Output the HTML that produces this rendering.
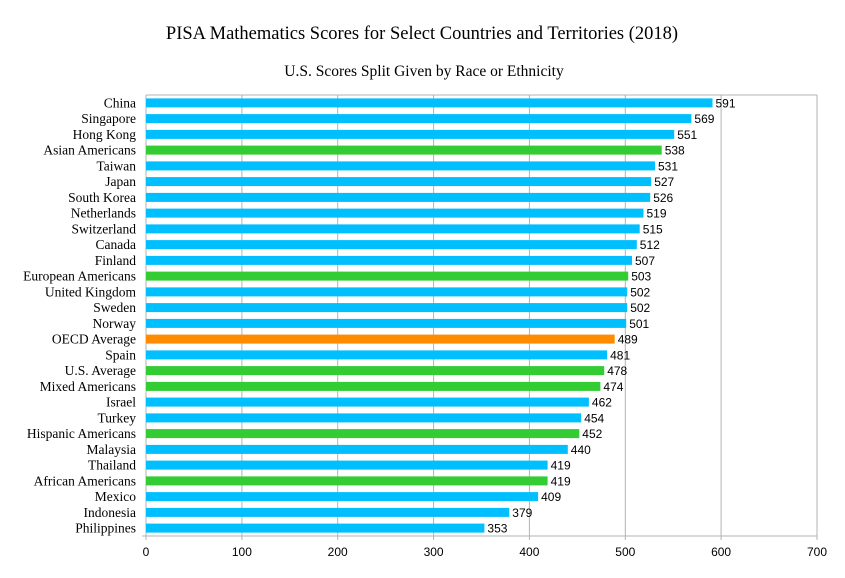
<!DOCTYPE html>
<html><head><meta charset="utf-8"><style>body{margin:0;background:#fff}</style></head><body>
<svg width="845" height="573" xmlns="http://www.w3.org/2000/svg">
<rect width="845" height="573" fill="#fff"/>
<text x="422" y="39" text-anchor="middle" font-family="Liberation Serif, serif" font-size="18.5">PISA Mathematics Scores for Select Countries and Territories (2018)</text>
<text x="424" y="76" text-anchor="middle" font-family="Liberation Serif, serif" font-size="15.5">U.S. Scores Split Given by Race or Ethnicity</text>
<g stroke="#b3b3b3" stroke-width="1">
<line x1="146" y1="95" x2="817" y2="95"/>
<line x1="241.9" y1="95" x2="241.9" y2="540"/>
<line x1="337.7" y1="95" x2="337.7" y2="540"/>
<line x1="433.6" y1="95" x2="433.6" y2="540"/>
<line x1="529.4" y1="95" x2="529.4" y2="540"/>
<line x1="625.3" y1="95" x2="625.3" y2="540"/>
<line x1="721.1" y1="95" x2="721.1" y2="540"/>
<line x1="817" y1="95" x2="817" y2="540"/>
<line x1="146" y1="95" x2="146" y2="540"/>
<line x1="142" y1="536" x2="817" y2="536"/>
</g>
<g font-family="Liberation Sans, sans-serif" font-size="12">
<g transform="translate(0,102.9)"><rect x="146" y="-4.5" width="566.5" height="9" fill="#00bfff"/><text x="715.5" y="4.5">591</text><text x="136" y="4.5" text-anchor="end" font-family="Liberation Serif, serif" font-size="13.5">China</text></g>
<g transform="translate(0,118.6)"><rect x="146" y="-4.5" width="545.4" height="9" fill="#00bfff"/><text x="694.4" y="4.5">569</text><text x="136" y="4.5" text-anchor="end" font-family="Liberation Serif, serif" font-size="13.5">Singapore</text></g>
<g transform="translate(0,134.4)"><rect x="146" y="-4.5" width="528.2" height="9" fill="#00bfff"/><text x="677.2" y="4.5">551</text><text x="136" y="4.5" text-anchor="end" font-family="Liberation Serif, serif" font-size="13.5">Hong Kong</text></g>
<g transform="translate(0,150.1)"><rect x="146" y="-4.5" width="515.7" height="9" fill="#33cc33"/><text x="664.7" y="4.5">538</text><text x="136" y="4.5" text-anchor="end" font-family="Liberation Serif, serif" font-size="13.5">Asian Americans</text></g>
<g transform="translate(0,165.9)"><rect x="146" y="-4.5" width="509.0" height="9" fill="#00bfff"/><text x="658.0" y="4.5">531</text><text x="136" y="4.5" text-anchor="end" font-family="Liberation Serif, serif" font-size="13.5">Taiwan</text></g>
<g transform="translate(0,181.6)"><rect x="146" y="-4.5" width="505.2" height="9" fill="#00bfff"/><text x="654.2" y="4.5">527</text><text x="136" y="4.5" text-anchor="end" font-family="Liberation Serif, serif" font-size="13.5">Japan</text></g>
<g transform="translate(0,197.4)"><rect x="146" y="-4.5" width="504.2" height="9" fill="#00bfff"/><text x="653.2" y="4.5">526</text><text x="136" y="4.5" text-anchor="end" font-family="Liberation Serif, serif" font-size="13.5">South Korea</text></g>
<g transform="translate(0,213.1)"><rect x="146" y="-4.5" width="497.5" height="9" fill="#00bfff"/><text x="646.5" y="4.5">519</text><text x="136" y="4.5" text-anchor="end" font-family="Liberation Serif, serif" font-size="13.5">Netherlands</text></g>
<g transform="translate(0,228.9)"><rect x="146" y="-4.5" width="493.7" height="9" fill="#00bfff"/><text x="642.7" y="4.5">515</text><text x="136" y="4.5" text-anchor="end" font-family="Liberation Serif, serif" font-size="13.5">Switzerland</text></g>
<g transform="translate(0,244.6)"><rect x="146" y="-4.5" width="490.8" height="9" fill="#00bfff"/><text x="639.8" y="4.5">512</text><text x="136" y="4.5" text-anchor="end" font-family="Liberation Serif, serif" font-size="13.5">Canada</text></g>
<g transform="translate(0,260.4)"><rect x="146" y="-4.5" width="486.0" height="9" fill="#00bfff"/><text x="635.0" y="4.5">507</text><text x="136" y="4.5" text-anchor="end" font-family="Liberation Serif, serif" font-size="13.5">Finland</text></g>
<g transform="translate(0,276.1)"><rect x="146" y="-4.5" width="482.2" height="9" fill="#33cc33"/><text x="631.2" y="4.5">503</text><text x="136" y="4.5" text-anchor="end" font-family="Liberation Serif, serif" font-size="13.5">European Americans</text></g>
<g transform="translate(0,291.9)"><rect x="146" y="-4.5" width="481.2" height="9" fill="#00bfff"/><text x="630.2" y="4.5">502</text><text x="136" y="4.5" text-anchor="end" font-family="Liberation Serif, serif" font-size="13.5">United Kingdom</text></g>
<g transform="translate(0,307.6)"><rect x="146" y="-4.5" width="481.2" height="9" fill="#00bfff"/><text x="630.2" y="4.5">502</text><text x="136" y="4.5" text-anchor="end" font-family="Liberation Serif, serif" font-size="13.5">Sweden</text></g>
<g transform="translate(0,323.4)"><rect x="146" y="-4.5" width="480.2" height="9" fill="#00bfff"/><text x="629.2" y="4.5">501</text><text x="136" y="4.5" text-anchor="end" font-family="Liberation Serif, serif" font-size="13.5">Norway</text></g>
<g transform="translate(0,339.1)"><rect x="146" y="-4.5" width="468.7" height="9" fill="#ff8c00"/><text x="617.7" y="4.5">489</text><text x="136" y="4.5" text-anchor="end" font-family="Liberation Serif, serif" font-size="13.5">OECD Average</text></g>
<g transform="translate(0,354.9)"><rect x="146" y="-4.5" width="461.1" height="9" fill="#00bfff"/><text x="610.1" y="4.5">481</text><text x="136" y="4.5" text-anchor="end" font-family="Liberation Serif, serif" font-size="13.5">Spain</text></g>
<g transform="translate(0,370.6)"><rect x="146" y="-4.5" width="458.2" height="9" fill="#33cc33"/><text x="607.2" y="4.5">478</text><text x="136" y="4.5" text-anchor="end" font-family="Liberation Serif, serif" font-size="13.5">U.S. Average</text></g>
<g transform="translate(0,386.4)"><rect x="146" y="-4.5" width="454.4" height="9" fill="#33cc33"/><text x="603.4" y="4.5">474</text><text x="136" y="4.5" text-anchor="end" font-family="Liberation Serif, serif" font-size="13.5">Mixed Americans</text></g>
<g transform="translate(0,402.1)"><rect x="146" y="-4.5" width="442.9" height="9" fill="#00bfff"/><text x="591.9" y="4.5">462</text><text x="136" y="4.5" text-anchor="end" font-family="Liberation Serif, serif" font-size="13.5">Israel</text></g>
<g transform="translate(0,417.9)"><rect x="146" y="-4.5" width="435.2" height="9" fill="#00bfff"/><text x="584.2" y="4.5">454</text><text x="136" y="4.5" text-anchor="end" font-family="Liberation Serif, serif" font-size="13.5">Turkey</text></g>
<g transform="translate(0,433.6)"><rect x="146" y="-4.5" width="433.3" height="9" fill="#33cc33"/><text x="582.3" y="4.5">452</text><text x="136" y="4.5" text-anchor="end" font-family="Liberation Serif, serif" font-size="13.5">Hispanic Americans</text></g>
<g transform="translate(0,449.4)"><rect x="146" y="-4.5" width="421.8" height="9" fill="#00bfff"/><text x="570.8" y="4.5">440</text><text x="136" y="4.5" text-anchor="end" font-family="Liberation Serif, serif" font-size="13.5">Malaysia</text></g>
<g transform="translate(0,465.1)"><rect x="146" y="-4.5" width="401.6" height="9" fill="#00bfff"/><text x="550.6" y="4.5">419</text><text x="136" y="4.5" text-anchor="end" font-family="Liberation Serif, serif" font-size="13.5">Thailand</text></g>
<g transform="translate(0,480.9)"><rect x="146" y="-4.5" width="401.6" height="9" fill="#33cc33"/><text x="550.6" y="4.5">419</text><text x="136" y="4.5" text-anchor="end" font-family="Liberation Serif, serif" font-size="13.5">African Americans</text></g>
<g transform="translate(0,496.6)"><rect x="146" y="-4.5" width="392.1" height="9" fill="#00bfff"/><text x="541.1" y="4.5">409</text><text x="136" y="4.5" text-anchor="end" font-family="Liberation Serif, serif" font-size="13.5">Mexico</text></g>
<g transform="translate(0,512.4)"><rect x="146" y="-4.5" width="363.3" height="9" fill="#00bfff"/><text x="512.3" y="4.5">379</text><text x="136" y="4.5" text-anchor="end" font-family="Liberation Serif, serif" font-size="13.5">Indonesia</text></g>
<g transform="translate(0,528.1)"><rect x="146" y="-4.5" width="338.4" height="9" fill="#00bfff"/><text x="487.4" y="4.5">353</text><text x="136" y="4.5" text-anchor="end" font-family="Liberation Serif, serif" font-size="13.5">Philippines</text></g>
</g>
<g font-family="Liberation Sans, sans-serif" font-size="12" text-anchor="middle">
<text x="146" y="556">0</text><text x="241.9" y="556">100</text><text x="337.7" y="556">200</text><text x="433.6" y="556">300</text><text x="529.4" y="556">400</text><text x="625.3" y="556">500</text><text x="721.1" y="556">600</text><text x="817" y="556">700</text>
</g>
</svg>
</body></html>
